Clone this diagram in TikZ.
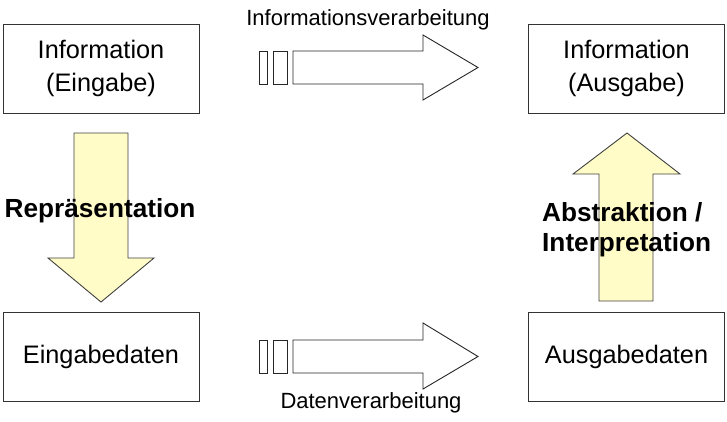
\documentclass[tikz,border=0pt]{standalone}
\usepackage{fontspec}
\setmainfont{Liberation Sans}
\begin{document}
\begin{tikzpicture}[x=1pt,y=-1pt,
  box/.style={draw=black!80,line width=1pt,fill=white,minimum width=196pt,minimum height=89pt,inner sep=0pt,align=center,font=\fontsize{25.3}{33}\selectfont},
  blockarrow/.style={draw=black!85,line width=0.9pt,fill=white,line join=miter},
  yarrow/.style={draw=black!75,line width=0.9pt,fill=yellow!22,line join=miter},
  lab/.style={inner sep=0pt,font=\fontsize{22}{26}\selectfont},
  blab/.style={inner sep=0pt,align=left,font=\bfseries\fontsize{26.2}{30}\selectfont}]
\useasboundingbox (0,0) rectangle (727,421);
% boxes
\node[box] (ie) at (101,68.5) {Information\\(Eingabe)};
\node[box] (ia) at (626.5,68.5) {Information\\(Ausgabe)};
\node[box] (ed) at (101,357) {Eingabedaten};
\node[box] (ad) at (626.5,357) {Ausgabedaten};
% top arrow
\draw[blockarrow] (259,51) rectangle (267,84);
\draw[blockarrow] (273,51) rectangle (287,84);
\draw[blockarrow] (293,51) -- (423,51) -- (423,35) -- (478,67.5) -- (423,100) -- (423,84) -- (293,84) -- cycle;
\node[lab] (iv) at (368,20) {Informationsverarbeitung};
% bottom arrow
\draw[blockarrow] (259,340) rectangle (267,373);
\draw[blockarrow] (273,340) rectangle (287,373);
\draw[blockarrow] (293,340) -- (423,340) -- (423,323) -- (478,356.5) -- (423,389) -- (423,373) -- (293,373) -- cycle;
\node[lab] (dv) at (371,403) {Datenverarbeitung};
% left down arrow
\draw[yarrow] (74,133) -- (128,133) -- (128,258) -- (154,258) -- (101,302) -- (48,258) -- (74,258) -- cycle;
\node[blab] (rep) at (100,211) {Repräsentation};
% right up arrow
\draw[yarrow] (599,301) -- (653,301) -- (653,174) -- (680,174) -- (627,133) -- (573,174) -- (599,174) -- cycle;
\node[blab,anchor=west] (abs) at (542,230) {Abstraktion /\\Interpretation};
\end{tikzpicture}
\end{document}
